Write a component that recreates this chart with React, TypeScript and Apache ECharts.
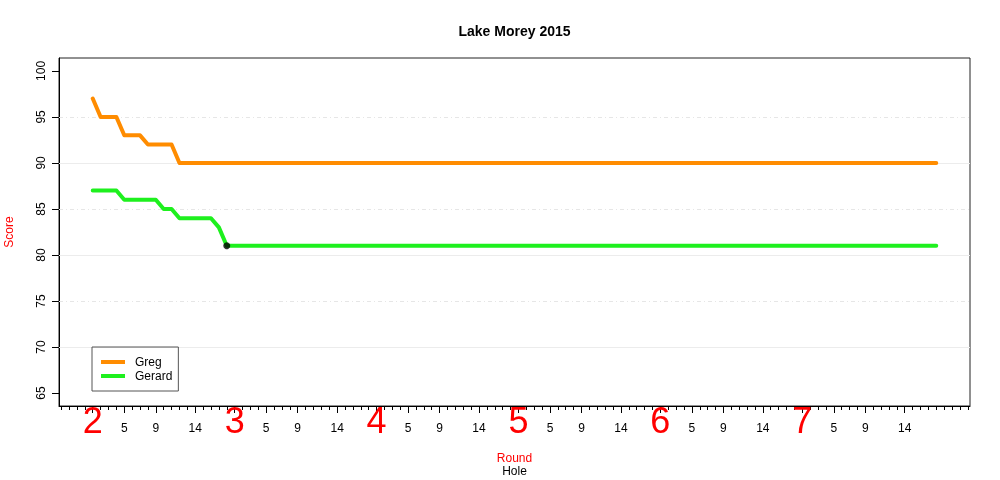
import React, { useEffect, useRef } from 'react';
import * as echarts from 'echarts';

const chartTitle = 'Lake Morey 2015';
const rounds = [2, 3, 4, 5, 6, 7];
const holesPerRound = 18;
const holeTickLabels = [5, 9, 14];
const yTicks = [65, 70, 75, 80, 85, 90, 95, 100];
const gridSolid = [70, 80, 90];
const gridDashed = [75, 85, 95];
const seriesNames = ['Greg', 'Gerard'];
const seriesColors = ['#ff8c00', '#1ef01e'];

// hole-by-hole running score, 18 holes per round (rounds 2..7)
const gregScores = [
  97, 95, 95, 95, 93, 93, 93, 92, 92, 92, 92, 90, 90, 90, 90, 90, 90, 90,
  90, 90, 90, 90, 90, 90, 90, 90, 90, 90, 90, 90, 90, 90, 90, 90, 90, 90,
  90, 90, 90, 90, 90, 90, 90, 90, 90, 90, 90, 90, 90, 90, 90, 90, 90, 90,
  90, 90, 90, 90, 90, 90, 90, 90, 90, 90, 90, 90, 90, 90, 90, 90, 90, 90,
  90, 90, 90, 90, 90, 90, 90, 90, 90, 90, 90, 90, 90, 90, 90, 90, 90, 90,
  90, 90, 90, 90, 90, 90, 90, 90, 90, 90, 90, 90, 90, 90, 90, 90, 90, 90,
];
const gerardScores = [
  87, 87, 87, 87, 86, 86, 86, 86, 86, 85, 85, 84, 84, 84, 84, 84, 83, 81,
  81, 81, 81, 81, 81, 81, 81, 81, 81, 81, 81, 81, 81, 81, 81, 81, 81, 81,
  81, 81, 81, 81, 81, 81, 81, 81, 81, 81, 81, 81, 81, 81, 81, 81, 81, 81,
  81, 81, 81, 81, 81, 81, 81, 81, 81, 81, 81, 81, 81, 81, 81, 81, 81, 81,
  81, 81, 81, 81, 81, 81, 81, 81, 81, 81, 81, 81, 81, 81, 81, 81, 81, 81,
  81, 81, 81, 81, 81, 81, 81, 81, 81, 81, 81, 81, 81, 81, 81, 81, 81, 81,
];
const gerardMarker = [[17, 81]];

const FONT = '"Liberation Sans", Arial, Helvetica, sans-serif';

export default function App() {
  const ref = useRef<HTMLDivElement>(null);

  useEffect(() => {
    const chart = echarts.init(ref.current!, null, { renderer: 'svg' });
    const n = gregScores.length;
    const xMin = -0.04 * (n - 1);
    const xMax = (n - 1) * 1.04;
    const ySpan = yTicks[yTicks.length - 1] - yTicks[0];
    const yMin = yTicks[0] - 0.04 * ySpan;
    const yMax = yTicks[yTicks.length - 1] + 0.04 * ySpan;

    const minorTicks: number[] = [];
    for (let v = Math.ceil(xMin); v <= Math.floor(xMax); v++) minorTicks.push(v);
    const roundStarts = rounds.map((_, ri) => ri * holesPerRound);
    const holeTicks = rounds.flatMap((_, ri) => holeTickLabels.map((h) => ri * holesPerRound + h - 1));
    const majorTicks = [...roundStarts, ...holeTicks].sort((a, b) => a - b);

    const gridLeft = 59;
    const gridRight = 30;
    const gridTop = 58;
    const gridBottom = 74;
    const centerX = gridLeft + (1000 - gridLeft - gridRight) / 2;

    const baseX = {
      type: 'value',
      min: xMin,
      max: xMax,
      position: 'bottom',
      splitLine: { show: false },
    };

    chart.setOption({
      animation: false,
      textStyle: { fontFamily: FONT },
      graphic: [
        {
          type: 'text',
          x: centerX,
          y: 31,
          style: {
            text: chartTitle,
            fontFamily: FONT,
            fontSize: 14,
            fontWeight: 'bold',
            fill: '#000',
            textAlign: 'center',
            textVerticalAlign: 'middle',
          },
        },
      ],
      grid: {
        left: gridLeft,
        right: gridRight,
        top: gridTop,
        bottom: gridBottom,
        outerBoundsMode: 'none',
        containLabel: false,
        show: true,
        borderColor: '#222',
        borderWidth: 1,
      },
      legend: {
        data: seriesNames,
        orient: 'vertical',
        left: 92,
        top: 347,
        icon: 'rect',
        itemWidth: 24,
        itemHeight: 4,
        itemGap: 2,
        borderColor: '#555',
        borderWidth: 1,
        borderRadius: 0,
        padding: [9, 6, 9, 9],
        textStyle: { fontSize: 12, color: '#000', fontFamily: FONT, padding: [0, 0, 0, 5], lineHeight: 12 },
      },
      xAxis: [
        {
          ...baseX,
          axisLine: { show: true, onZero: false, lineStyle: { color: '#000', width: 1 } },
          axisTick: { show: true, length: 4, customValues: minorTicks, lineStyle: { color: '#000' } },
          axisLabel: { show: false },
          name: 'Round',
          nameLocation: 'middle',
          nameGap: 46,
          nameTextStyle: { color: '#ff0000', fontSize: 12, fontFamily: FONT },
        },
        {
          ...baseX,
          axisLine: { show: false, onZero: false },
          axisTick: { show: true, length: 7, customValues: majorTicks, lineStyle: { color: '#000' } },
          axisLabel: {
            show: true,
            customValues: holeTicks,
            formatter: (v: number) => String((Math.round(v) % holesPerRound) + 1),
            fontSize: 12,
            color: '#000',
            margin: 16,
            fontFamily: FONT,
          },
          name: 'Hole',
          nameLocation: 'middle',
          nameGap: 59,
          nameTextStyle: { color: '#000', fontSize: 12, fontFamily: FONT },
        },
        {
          ...baseX,
          axisLine: { show: false, onZero: false },
          axisTick: { show: false },
          axisLabel: {
            show: true,
            customValues: roundStarts,
            formatter: (v: number) => String(rounds[Math.round(v / holesPerRound)]),
            fontSize: 36,
            color: '#ff0000',
            margin: -4,
            fontFamily: FONT,
          },
        },
      ],
      yAxis: {
        type: 'value',
        min: yMin,
        max: yMax,
        axisLine: { show: true, onZero: false, lineStyle: { color: '#000' } },
        axisTick: { show: true, length: 7, customValues: yTicks, lineStyle: { color: '#000' } },
        axisLabel: {
          show: true,
          customValues: yTicks,
          rotate: 90,
          fontSize: 12,
          color: '#000',
          margin: 12,
          fontFamily: FONT,
        },
        splitLine: { show: false },
        name: 'Score',
        nameLocation: 'middle',
        nameGap: 44,
        nameTextStyle: { color: '#ff0000', fontSize: 12, fontFamily: FONT },
      },
      series: [
        {
          type: 'line',
          name: 'gridlines',
          data: [],
          z: 1,
          silent: true,
          markLine: {
            silent: true,
            z: 1,
            symbol: ['none', 'none'],
            label: { show: false },
            animation: false,
            data: [
              ...gridSolid.map((v) => ({ yAxis: v, lineStyle: { color: '#ececec', type: 'solid', width: 1 } })),
              ...gridDashed.map((v) => ({ yAxis: v, lineStyle: { color: '#e6e6e6', type: [4, 3, 1, 3], width: 1 } })),
            ],
          },
        },
        {
          type: 'line',
          name: seriesNames[0],
          data: gregScores.map((v, i) => [i, v]),
          showSymbol: false,
          symbol: 'none',
          color: seriesColors[0],
          lineStyle: { width: 4, color: seriesColors[0], cap: 'round', join: 'round' },
          z: 3,
        },
        {
          type: 'line',
          name: seriesNames[1],
          data: gerardScores.map((v, i) => [i, v]),
          showSymbol: false,
          symbol: 'none',
          color: seriesColors[1],
          lineStyle: { width: 4, color: seriesColors[1], cap: 'round', join: 'round' },
          z: 3,
        },
        {
          type: 'scatter',
          name: 'marker',
          data: gerardMarker,
          symbol: 'circle',
          symbolSize: 7,
          itemStyle: { color: '#000' },
          z: 4,
        },
      ],
    });

    return () => chart.dispose();
  }, []);

  return <div ref={ref} style={{ position: 'fixed', left: 0, top: 0, width: 1000, height: 480 }} />;
}
